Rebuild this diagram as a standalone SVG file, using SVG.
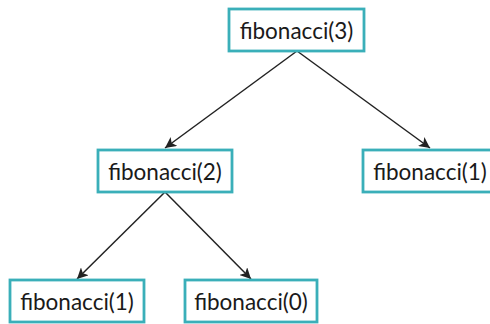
<svg xmlns="http://www.w3.org/2000/svg" width="490" height="324" viewBox="0 0 490 324">
<style>
.box{fill:#fff;stroke:#3aafb9;stroke-width:2.8}
.lbl{font-family:Lato,"Liberation Sans",sans-serif;font-size:22.5px;fill:#1a1a1a;text-anchor:middle;dominant-baseline:central}
.edge{stroke:#222;stroke-width:1.5;fill:none;marker-end:url(#ah)}
</style>
<defs>
<marker id="ah" viewBox="0 0 10 10" refX="10" refY="5" markerWidth="11" markerHeight="11" markerUnits="userSpaceOnUse" orient="auto">
<path d="M0,0 L10,5 L0,10 L2.5,5 z" fill="#222"/>
</marker>
</defs>
<g id="edges">
<line class="edge" x1="297" y1="51" x2="165" y2="148"/>
<line class="edge" x1="297" y1="51" x2="430" y2="148"/>
<line class="edge" x1="165" y1="192" x2="77" y2="279"/>
<line class="edge" x1="165" y1="192" x2="251" y2="279"/>
</g>
<g id="n3"><rect class="box" x="229" y="9" width="135" height="42"/><text class="lbl" x="296.5" y="30">fibonacci(3)</text></g>
<g id="n2"><rect class="box" x="98" y="150" width="134" height="42"/><text class="lbl" x="165" y="171">fibonacci(2)</text></g>
<g id="n1r"><rect class="box" x="363" y="150" width="134" height="42"/><text class="lbl" x="430" y="171">fibonacci(1)</text></g>
<g id="n1l"><rect class="box" x="10" y="280" width="134" height="42"/><text class="lbl" x="77" y="301">fibonacci(1)</text></g>
<g id="n0"><rect class="box" x="185" y="280" width="132" height="42"/><text class="lbl" x="251" y="301">fibonacci(0)</text></g>
</svg>
